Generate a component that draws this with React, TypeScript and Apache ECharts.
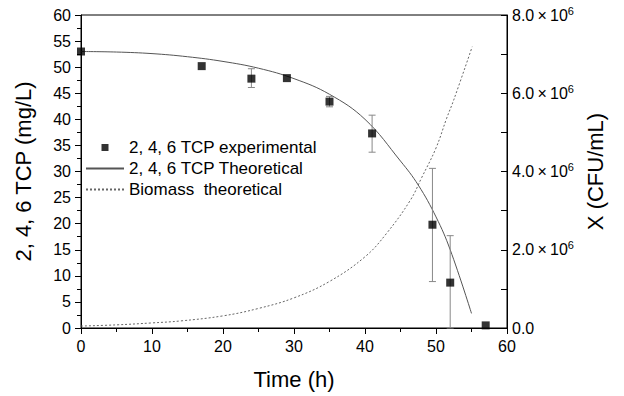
import React, { useEffect, useRef } from "react";
import * as echarts from "echarts";

// Experimental 2,4,6-TCP (mg/L) vs time (h)
const expTime = [0, 17, 24, 29, 35, 41, 49.5, 52, 57];
const expTcp = [53, 50.2, 47.8, 47.9, 43.4, 37.3, 19.8, 8.7, 0.5];
// error bar bounds [low, high]
const expErrLow = [53, 50.2, 46.1, 47.9, 42.4, 33.7, 8.9, 0, 0.5];
const expErrHigh = [53, 50.2, 49.7, 47.9, 44.4, 40.8, 30.6, 17.7, 0.5];

// Theoretical TCP curve
const theoTime = [0, 5, 10, 15, 20, 25, 30, 35, 40, 45, 47.5, 50, 52, 55];
const theoTcp = [53, 52.9, 52.6, 52.0, 51.1, 49.8, 47.8, 44.8, 40.0, 32.0, 27.4, 21.3, 15.0, 2.8];

// Biomass theoretical (CFU/mL)
const bioTime = [0, 5, 10, 14, 20, 25, 30, 35, 40, 43, 46.4, 48, 50, 51.5, 52.5, 55.1];
const bioX = [0.05e6, 0.08e6, 0.13e6, 0.18e6, 0.31e6, 0.5e6, 0.77e6, 1.19e6, 1.82e6, 2.41e6, 3.27e6, 3.85e6, 4.6e6, 5.36e6, 5.83e6, 7.19e6];

const legendNames = ["2, 4, 6 TCP experimental", "2, 4, 6 TCP Theoretical", "Biomass  theoretical"];

const FONT = "'Liberation Sans', Arial, sans-serif";
const HIDDEN = { color: "rgba(0,0,0,0)", borderColor: "rgba(0,0,0,0)", borderWidth: 0, opacity: 0 };

export default function App() {
  const ref = useRef<HTMLDivElement>(null);
  useEffect(() => {
    if (!ref.current) return;
    const chart = echarts.init(ref.current, undefined, { renderer: "svg" });
    const expData = expTime.map((t, i) => [t, expTcp[i]]);
    const errData = expTime.map((t, i) => [t, expErrLow[i], expErrHigh[i]]);
    const theoData = theoTime.map((t, i) => [t, theoTcp[i]]);
    const bioData = bioTime.map((t, i) => [t, bioX[i]]);
    chart.setOption({
      animation: false,
      textStyle: { fontFamily: FONT, color: "#000" },
      grid: { left: 81, right: 117, top: 15, bottom: 68, show: true, borderColor: "#000", borderWidth: 1, backgroundColor: "transparent" },
      legend: {
        orient: "vertical",
        left: 85,
        top: 139,
        padding: 0,
        itemWidth: 38,
        itemHeight: 14,
        itemGap: 4,
        textStyle: { fontSize: 17, color: "#000", fontFamily: FONT },
        data: [
          { name: legendNames[0], icon: "path://M0,0M38,14M15.5,3.5h7v7h-7z", itemStyle: { color: "#000" } },
          { name: legendNames[1], itemStyle: HIDDEN },
          { name: legendNames[2], itemStyle: HIDDEN },
        ],
      },
      xAxis: {
        type: "value",
        min: 0,
        max: 60,
        interval: 10,
        name: "Time (h)",
        nameLocation: "middle",
        nameGap: 40,
        nameTextStyle: { fontSize: 22, color: "#000", fontFamily: FONT },
        axisLine: { onZero: false, lineStyle: { color: "#000", width: 1 } },
        axisTick: { show: true, inside: false, length: 6, lineStyle: { color: "#000" } },
        minorTick: { show: true, splitNumber: 2, length: 4, lineStyle: { color: "#000" } },
        splitLine: { show: false },
        axisLabel: { fontSize: 16, color: "#000", margin: 10, fontFamily: FONT },
      },
      yAxis: [
        {
          type: "value",
          min: 0,
          max: 60,
          interval: 5,
          name: "2, 4, 6 TCP (mg/L)",
          nameLocation: "middle",
          nameRotate: 90,
          nameGap: 47,
          nameTextStyle: { fontSize: 22, color: "#000", fontFamily: FONT },
          axisLine: { show: true, onZero: false, lineStyle: { color: "#000", width: 1 } },
          axisTick: { show: true, inside: false, length: 6, lineStyle: { color: "#000" } },
          minorTick: { show: true, splitNumber: 2, length: 4, lineStyle: { color: "#000" } },
          splitLine: { show: false },
          axisLabel: { fontSize: 16, color: "#000", margin: 10, fontFamily: FONT },
        },
        {
          type: "value",
          position: "right",
          min: 0,
          max: 8e6,
          interval: 2e6,
          name: "X (CFU/mL)",
          nameLocation: "middle",
          nameRotate: 90,
          nameGap: 74,
          nameTextStyle: { fontSize: 22, color: "#000", fontFamily: FONT },
          axisLine: { show: true, onZero: false, lineStyle: { color: "#000", width: 1 } },
          axisTick: { show: true, inside: true, length: 6, lineStyle: { color: "#000" } },
          minorTick: { show: true, splitNumber: 2, length: 6, lineStyle: { color: "#000" } },
          splitLine: { show: false },
          axisLabel: {
            fontSize: 16,
            color: "#000",
            margin: 5,
            fontFamily: FONT,
            formatter: (v: number) => (v === 0 ? "0.0" : `${(v / 1e6).toFixed(1)}\u2009×\u200910{sup|6}`),
            rich: { sup: { fontSize: 11, padding: [0, 0, 9, 0], color: "#000", fontFamily: FONT } },
          },
        },
      ],
      series: [
        {
          name: legendNames[1],
          type: "line",
          data: theoData,
          smooth: 0.4,
          symbol: "none",
          lineStyle: { color: "#555", width: 1 },
          itemStyle: { color: "#555" },
          z: 2,
        },
        {
          name: legendNames[2],
          type: "line",
          yAxisIndex: 1,
          data: bioData,
          smooth: 0.4,
          symbol: "none",
          lineStyle: { color: "#666", width: 1, type: [2, 2] },
          itemStyle: { color: "#666" },
          z: 2,
        },
        {
          name: "err",
          type: "custom",
          data: errData,
          z: 3,
          renderItem: (params: any, api: any) => {
            const t = api.value(0);
            const lo = api.value(1);
            const hi = api.value(2);
            if (hi - lo < 0.01) return null;
            const p1 = api.coord([t, hi]);
            const p2 = api.coord([t, lo]);
            const w = 3.5;
            const style = { stroke: "#888", lineWidth: 1 };
            return {
              type: "group",
              children: [
                { type: "line", shape: { x1: p1[0], y1: p1[1], x2: p2[0], y2: p2[1] }, style },
                { type: "line", shape: { x1: p1[0] - w, y1: p1[1], x2: p1[0] + w, y2: p1[1] }, style },
                { type: "line", shape: { x1: p2[0] - w, y1: p2[1], x2: p2[0] + w, y2: p2[1] }, style },
              ],
            };
          },
        },
        {
          name: legendNames[0],
          type: "scatter",
          data: expData,
          symbol: "rect",
          symbolSize: 8,
          itemStyle: { color: "#000" },
          z: 5,
        },
      ],
    });
    return () => chart.dispose();
  }, []);
  return <div ref={ref} style={{ width: 624, height: 396, position: "absolute", left: 0, top: 0, background: "#fff" }} />;
}
